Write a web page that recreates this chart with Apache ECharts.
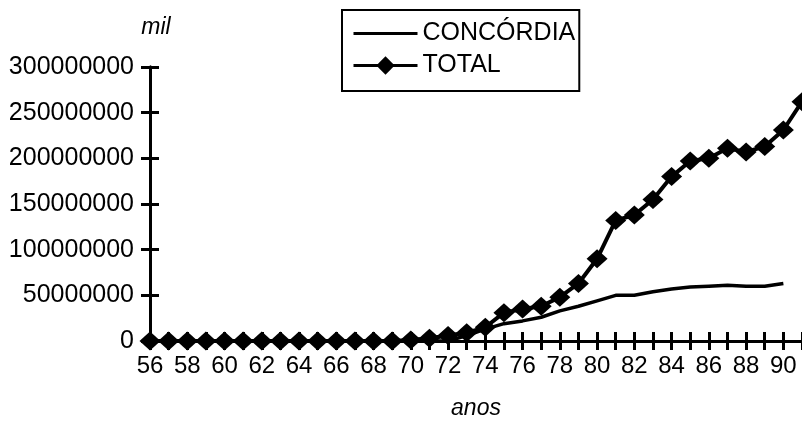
<!DOCTYPE html>
<html>
<head>
<meta charset="utf-8">
<script src="https://cdn.jsdelivr.net/npm/echarts@6/dist/echarts.min.js"></script>
<style>html,body{margin:0;padding:0;background:#fff;}#c{width:802px;height:433px;}</style>
</head>
<body>
<div id="c"></div>
<script>
const years = ['56','57','58','59','60','61','62','63','64','65','66','67','68','69','70','71','72','73','74','75','76','77','78','79','80','81','82','83','84','85','86','87','88','89','90','91'];
const concordia = [0,0,0,0,0,0,0,0,0,0,0,0,0,0,0,0,0,6000000,13000000,19000000,22000000,26000000,33000000,38000000,44000000,50000000,50000000,54000000,57000000,59000000,60000000,61000000,60000000,60000000,63000000,null];
const total = [0,0,0,0,0,0,0,0,0,0,0,0,0,0,1000000,3000000,6000000,9000000,15000000,31000000,35000000,38000000,48000000,63000000,90000000,132000000,138000000,155000000,180000000,197000000,200000000,211000000,207000000,213000000,231000000,262000000];
const yTicks = [0, 300000000, 50000000];

const FONT = 'Liberation Sans, Arial, sans-serif';
const chart = echarts.init(document.getElementById('c'), null, {renderer: 'canvas'});
const catAxisBase = {
  type: 'category', data: years, boundaryGap: false,
  axisLine: {onZero: false, lineStyle: {color: '#000', width: 3}},
  splitLine: {show: false}
};
const valAxisBase = {
  type: 'value', min: yTicks[0], max: yTicks[1], interval: yTicks[2],
  axisLine: {show: true, lineStyle: {color: '#000', width: 3}},
  splitLine: {show: false}
};
chart.setOption({
  animation: false,
  backgroundColor: '#fff',
  textStyle: {fontFamily: FONT, color: '#000'},
  grid: {left: 150, top: 67, width: 652, bottom: 92, containLabel: false},
  legend: {
    orient: 'vertical', left: 342, top: 10,
    borderColor: '#000', borderWidth: 2, padding: [11, 4, 13, 10],
    itemWidth: 64, itemHeight: 23, itemGap: 7,
    textStyle: {fontFamily: FONT, fontSize: 25, color: '#000'},
    lineStyle: {width: 3, color: '#000'},
    data: [
      {name: 'CONCÓRDIA', itemStyle: {opacity: 0}},
      {name: 'TOTAL'}
    ]
  },
  xAxis: [
    Object.assign({}, catAxisBase, {
      axisTick: {show: true, interval: 0, length: 9, lineStyle: {color: '#000', width: 3}},
      axisLabel: {interval: 1, margin: 13, fontFamily: FONT, fontSize: 24, color: '#000'},
      name: 'anos', nameLocation: 'middle', nameGap: 56,
      nameTextStyle: {fontFamily: FONT, fontSize: 23, fontStyle: 'italic', color: '#000'}
    }),
    Object.assign({}, catAxisBase, {
      position: 'bottom',
      axisTick: {show: true, inside: true, interval: 0, length: 9, lineStyle: {color: '#000', width: 3}},
      axisLabel: {show: false}
    })
  ],
  yAxis: [
    Object.assign({}, valAxisBase, {
      axisTick: {show: true, length: 9, lineStyle: {color: '#000', width: 3}},
      axisLabel: {margin: 16, fontFamily: FONT, fontSize: 25, color: '#000', formatter: v => String(v)},
      name: 'mil', nameLocation: 'end', nameGap: 28,
      nameTextStyle: {fontFamily: FONT, fontSize: 23, fontStyle: 'italic', color: '#000', align: 'center', padding: [0, 0, 0, 12]}
    }),
    Object.assign({}, valAxisBase, {
      position: 'left',
      axisTick: {show: true, inside: true, length: 9, lineStyle: {color: '#000', width: 3}},
      axisLabel: {show: false}
    })
  ],
  series: [
    {
      name: 'TOTAL', type: 'line', data: total, xAxisIndex: 0, yAxisIndex: 0,
      symbol: 'diamond', symbolSize: [21, 19], showSymbol: true, showAllSymbol: true, clip: false,
      lineStyle: {color: '#000', width: 4}, itemStyle: {color: '#000'}, z: 3
    },
    {
      name: 'CONCÓRDIA', type: 'line', data: concordia, xAxisIndex: 0, yAxisIndex: 0,
      symbol: 'none', connectNulls: false,
      lineStyle: {color: '#000', width: 3.5}, itemStyle: {color: '#000'}, z: 2
    }
  ]
});
</script>
</body>
</html>
